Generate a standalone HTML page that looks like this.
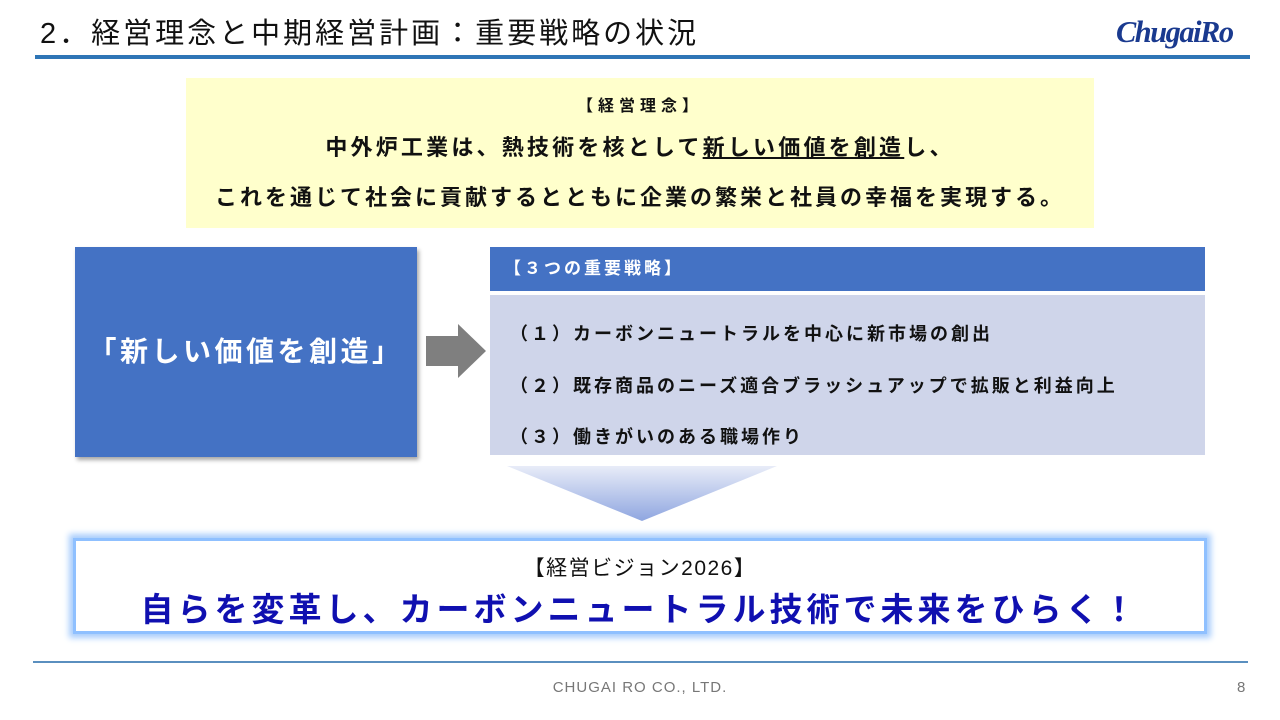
<!DOCTYPE html>
<html><head><meta charset="utf-8"><style>
body{margin:0;width:1280px;height:720px;background:#fff;position:relative;overflow:hidden;font-family:"Liberation Sans","Noto Sans CJK JP",sans-serif;}
.a{position:absolute;}
</style></head><body>
<div class="a" style="left:40px;top:10px;font-size:29px;color:#111;letter-spacing:3px;">2．経営理念と中期経営計画：重要戦略の状況</div>
<div class="a" style="left:1116px;top:14px;font-size:31px;font-weight:bold;font-style:italic;color:#1a3a8f;font-family:'Liberation Serif',serif;letter-spacing:-1.5px;transform:scaleX(0.98);transform-origin:left;">ChugaiRo</div>
<div class="a" style="left:35px;top:55px;width:1215px;height:4px;background:#2e75b6;"></div>
<div class="a" style="left:186px;top:78px;width:908px;height:150px;background:#ffffcc;text-align:center;color:#111;">
<div style="margin-top:14px;font-size:16px;font-weight:bold;letter-spacing:5px;">【経営理念】</div>
<div style="margin-top:14px;font-size:22px;font-weight:bold;letter-spacing:3.2px;">中外炉工業は、熱技術を核として<u>新しい価値を創造</u>し、</div>
<div style="margin-top:18px;font-size:22px;font-weight:bold;letter-spacing:3px;">これを通じて社会に貢献するとともに企業の繁栄と社員の幸福を実現する。</div>
</div>
<div class="a" style="left:75px;top:247px;width:342px;height:210px;background:#4472c4;box-shadow:2px 3px 4px rgba(0,0,0,0.35);color:#fff;font-size:28px;font-weight:bold;line-height:210px;text-align:center;letter-spacing:3.5px;">「新しい価値を創造」</div>
<svg class="a" style="left:424px;top:322px" width="66" height="58"><polygon points="2,14 34,14 34,2 62,29 34,56 34,44 2,44" fill="#7f7f7f"/></svg>
<div class="a" style="left:490px;top:247px;width:715px;height:44px;background:#4472c4;color:#fff;font-size:17px;font-weight:bold;line-height:44px;text-indent:14px;letter-spacing:3px;">【３つの重要戦略】</div>
<div class="a" style="left:490px;top:295px;width:715px;height:160px;background:#cfd5ea;color:#111;font-size:18px;font-weight:bold;letter-spacing:3px;">
<div class="a" style="left:20px;top:25px;">（１）カーボンニュートラルを中心に新市場の創出</div>
<div class="a" style="left:20px;top:77px;">（２）既存商品のニーズ適合ブラッシュアップで拡販と利益向上</div>
<div class="a" style="left:20px;top:128px;">（３）働きがいのある職場作り</div>
</div>
<svg class="a" style="left:505px;top:465px" width="274" height="58"><defs><linearGradient id="g" x1="0" y1="0" x2="0" y2="1"><stop offset="0" stop-color="#e8ecf8"/><stop offset="1" stop-color="#8fa6e0"/></linearGradient></defs><polygon points="2,1 272,1 137,56" fill="url(#g)"/></svg>
<div class="a" style="left:73px;top:538px;width:1134px;height:96px;border:3px solid #8fc0ff;box-sizing:border-box;box-shadow:0 0 6px 4px #a8cdfc;background:#fff;text-align:center;">
<div style="margin-top:11px;font-size:21px;color:#111;letter-spacing:1.5px;">【経営ビジョン2026】</div>
<div style="margin-top:1px;font-size:33px;font-weight:bold;color:#1010b0;letter-spacing:4px;">自らを変革し、カーボンニュートラル技術で未来をひらく！</div>
</div>
<div class="a" style="left:33px;top:661px;width:1215px;height:2px;background:#5a8fbf;"></div>
<div class="a" style="left:0;top:679px;width:1280px;text-align:center;font-size:15px;color:#777;letter-spacing:1px;">CHUGAI RO CO., LTD.</div>
<div class="a" style="left:1237px;top:679px;font-size:15px;color:#777;">8</div>
</body></html>
